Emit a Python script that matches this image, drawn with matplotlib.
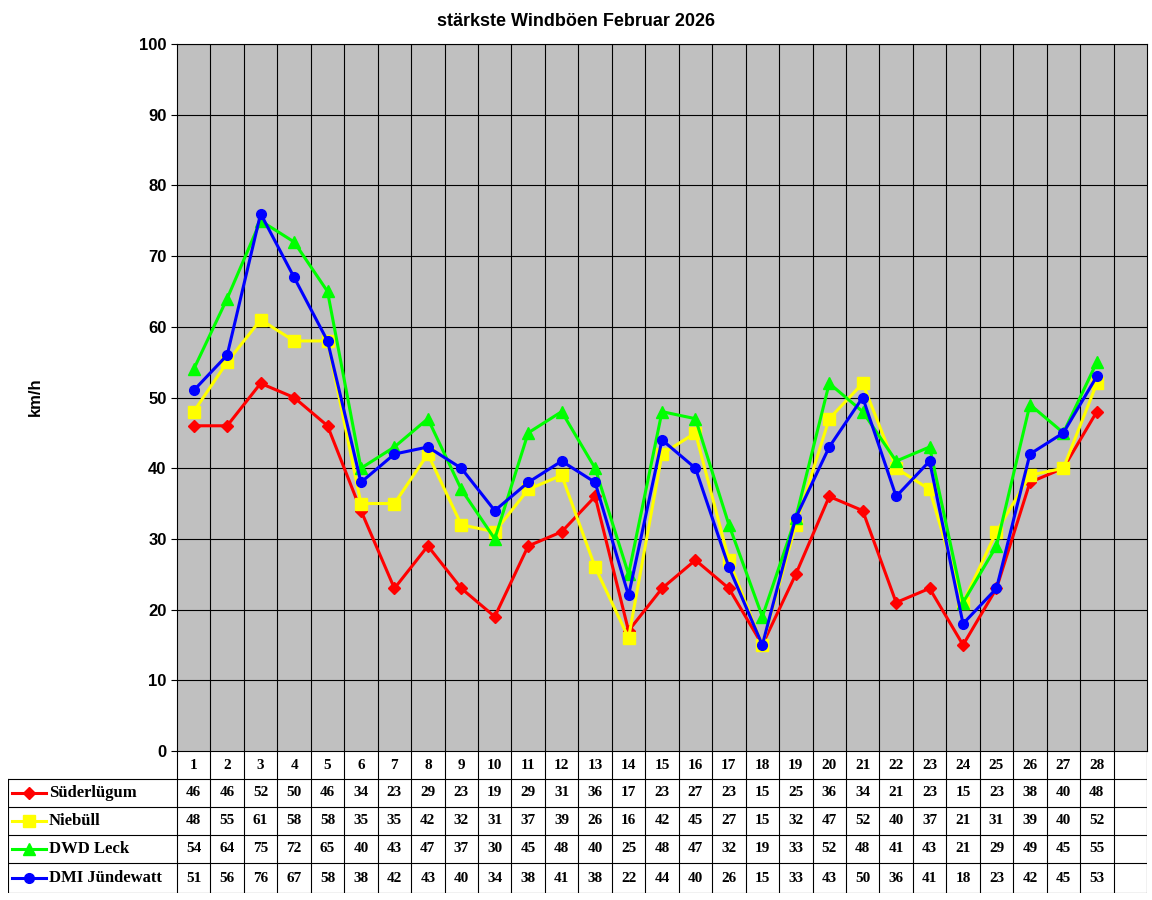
import matplotlib
matplotlib.use("Agg")
import matplotlib.pyplot as plt
from matplotlib.lines import Line2D

days = list(range(1, 29))
sued = [46,46,52,50,46,34,23,29,23,19,29,31,36,17,23,27,23,15,25,36,34,21,23,15,23,38,40,48]
nieb = [48,55,61,58,58,35,35,42,32,31,37,39,26,16,42,45,27,15,32,47,52,40,37,21,31,39,40,52]
leck = [54,64,75,72,65,40,43,47,37,30,45,48,40,25,48,47,32,19,33,52,48,41,43,21,29,49,45,55]
dmi  = [51,56,76,67,58,38,42,43,40,34,38,41,38,22,44,40,26,15,33,43,50,36,41,18,23,42,45,53]
names = ["Süderlügum", "Niebüll", "DWD Leck", "DMI Jündewatt"]
series = [sued, nieb, leck, dmi]
colors = ["#ff0000", "#ffff00", "#00ff00", "#0000ff"]
markers = ["D", "s", "^", "o"]
msizes = [6, 8, 8, 7]

W, H = 1152, 900
fig = plt.figure(figsize=(W/100, H/100), dpi=100)
sans = "Liberation Sans"; serif = "Liberation Serif"

L, R, T, B = 177, 1147, 44, 751
ax = fig.add_axes([L/W, 1-B/H, (R-L)/W, (B-T)/H])
ax.set_facecolor("#c0c0c0")
ax.set_xlim(0.5, 29.5)
ax.set_ylim(0, 100)
ax.set_yticks(range(0, 101, 10))
ax.set_xticks([])
for x in range(1, 29):
    ax.axvline(x + 0.5, color="black", lw=0.8)
for y in range(10, 101, 10):
    ax.axhline(y, color="black", lw=0.8)
for s, c, m, ms in zip(series, colors, markers, msizes):
    ax.plot(days, s, color=c, lw=2.2, marker=m, ms=ms, zorder=3)
for lab in ax.get_yticklabels():
    lab.set_fontfamily(sans); lab.set_fontweight("bold"); lab.set_fontsize(12)
ax.tick_params(axis="y", length=4)
for sp in ax.spines.values():
    sp.set_color("black")
fig.text(35/W, 1-397/H, "km/h", rotation=90, ha="center", va="center",
         fontfamily=sans, fontweight="bold", fontsize=12)
fig.text(576/W, 1-22/H, "stärkste Windböen Februar 2026", ha="center", va="center",
         fontfamily=sans, fontweight="bold", fontsize=13)

# table
TL, TB = 8, 893
tax = fig.add_axes([TL/W, 1-TB/H, (R-TL)/W, (TB-B)/H])
tax.set_xlim(TL, R); tax.set_ylim(TB, B)
tax.axis("off")
cw = (R - L) / 29
rows_y = [751, 779, 807, 835, 863, 893]
kw = dict(color="black", lw=0.8)
for i in range(30):
    x = L + i * cw
    tax.plot([x, x], [B, TB], **kw)
tax.plot([TL, TL], [779, TB], **kw)
for y in rows_y[1:]:
    tax.plot([TL, R], [y, y], **kw)
for d in days:
    tax.text(L + (d - 0.5) * cw, (751 + 779) / 2, str(d), ha="center", va="center",
             fontfamily=serif, fontweight="bold", fontsize=11)
for r, (nm, s, c, m, ms) in enumerate(zip(names, series, colors, markers, msizes)):
    yc = (rows_y[r+1] + rows_y[r+2]) / 2
    tax.add_line(Line2D([12, 46], [yc, yc], color=c, lw=2.2))
    tax.plot([29], [yc], marker=m, color=c, ms=ms)
    tax.text(49, yc, nm, ha="left", va="center", fontfamily=serif, fontweight="bold", fontsize=12)
    for d, v in zip(days, s):
        tax.text(L + (d - 0.5) * cw, yc, str(v), ha="center", va="center",
                 fontfamily=serif, fontweight="bold", fontsize=11)

fig.savefig("out.png", dpi=100)
